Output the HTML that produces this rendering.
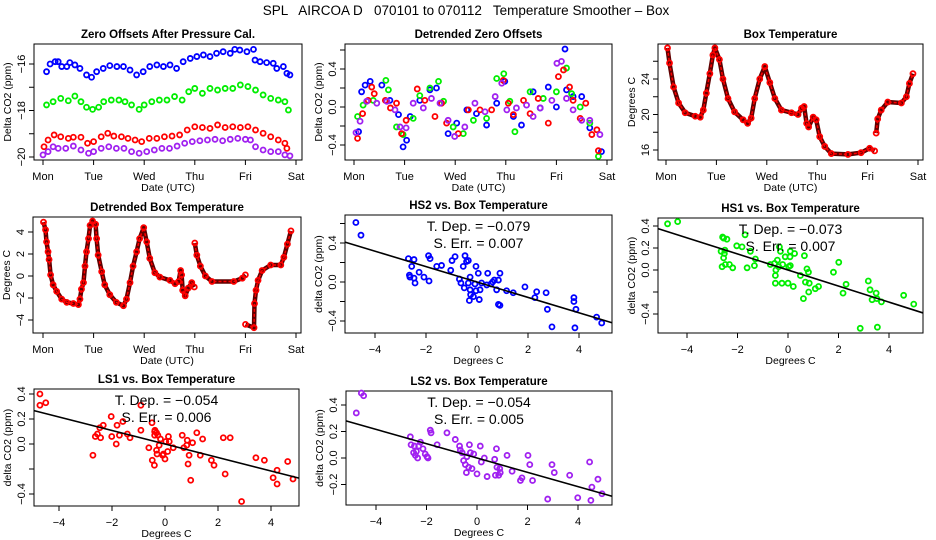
<!DOCTYPE html>
<html><head><meta charset="utf-8">
<style>
html,body{margin:0;padding:0;background:#fff;}
svg{display:block;font-family:"Liberation Sans",sans-serif;}
</style></head>
<body>
<svg id="fig" width="936" height="540" viewBox="0 0 936 540" xmlns="http://www.w3.org/2000/svg">
<rect x="0" y="0" width="936" height="540" fill="#fff"/>
<text x="466" y="15" font-size="13.5" text-anchor="middle" xml:space="preserve">SPL   AIRCOA D   070101 to 070112   Temperature Smoother – Box</text>
</svg>
<script>
// ---- Zero offsets (days since Mon, ppm) ----
const zoBlueDays = [0.07,0.14,0.24,0.30,0.37,0.47,0.53,0.63,0.73,0.86,0.96,1.06,1.19,1.32,1.46,1.59,1.72,1.85,1.98,2.11,2.25,2.38,2.51,2.64,2.77,2.91,3.04,3.17,3.30,3.43,3.56,3.70,3.79,3.89,4.03,4.16,4.19,4.29,4.42,4.55,4.62,4.75,4.82,4.88];
const zoBlue = [-16.33,-16.0,-15.9,-15.9,-16.11,-16.11,-15.94,-16.04,-16.19,-16.47,-16.57,-16.33,-16.19,-16.07,-16.11,-16.11,-16.26,-16.47,-16.33,-16.11,-16.04,-16.11,-16.04,-16.19,-15.9,-15.76,-15.68,-15.61,-15.68,-15.54,-15.47,-15.54,-15.37,-15.4,-15.47,-15.37,-15.83,-15.9,-15.94,-15.97,-16.19,-16.11,-16.4,-16.47];
const zoGreenDays = [0.07,0.2,0.35,0.5,0.63,0.75,0.86,0.98,1.1,1.2,1.35,1.5,1.62,1.75,1.9,2.0,2.15,2.3,2.45,2.6,2.75,2.88,3.0,3.15,3.3,3.45,3.6,3.75,3.9,4.05,4.2,4.35,4.5,4.65,4.78,4.85];
const zoGreen = [-17.76,-17.62,-17.48,-17.58,-17.38,-17.62,-17.86,-17.95,-17.86,-17.62,-17.55,-17.55,-17.62,-17.76,-17.95,-17.76,-17.62,-17.55,-17.55,-17.4,-17.55,-17.19,-17.05,-17.26,-17.05,-17.12,-17.05,-17.05,-16.9,-16.97,-17.12,-17.33,-17.48,-17.55,-17.62,-17.98];
const zoRedDays = [0.02,0.1,0.22,0.35,0.5,0.6,0.75,0.88,1.0,1.15,1.28,1.4,1.55,1.68,1.82,1.95,2.1,2.25,2.4,2.55,2.7,2.85,3.0,3.15,3.3,3.45,3.6,3.75,3.9,4.05,4.2,4.35,4.5,4.65,4.78,4.82];
const zoRed = [-19.56,-19.27,-19.05,-19.13,-19.2,-19.15,-19.15,-19.41,-19.34,-19.13,-18.98,-19.1,-19.13,-19.2,-19.27,-19.34,-19.2,-19.2,-19.13,-19.1,-19.05,-18.84,-18.7,-18.73,-18.77,-18.62,-18.73,-18.7,-18.73,-18.7,-18.84,-18.98,-19.13,-19.27,-19.41,-19.63];
const zoPurpleDays = [0.0,0.1,0.2,0.3,0.45,0.6,0.75,0.9,1.0,1.15,1.3,1.45,1.6,1.75,1.9,2.05,2.2,2.35,2.5,2.65,2.8,2.95,3.1,3.25,3.4,3.55,3.7,3.85,4.0,4.1,4.2,4.35,4.5,4.65,4.78,4.88];
const zoPurple = [-19.91,-19.77,-19.56,-19.63,-19.63,-19.53,-19.7,-19.84,-19.77,-19.63,-19.56,-19.63,-19.63,-19.77,-19.84,-19.77,-19.7,-19.63,-19.63,-19.53,-19.41,-19.34,-19.3,-19.27,-19.24,-19.3,-19.24,-19.2,-19.24,-19.27,-19.56,-19.7,-19.77,-19.77,-19.91,-19.95];
// ---- Detrended zero offsets ----
const dtBlueDays = [0.09,0.15,0.22,0.32,0.55,0.71,0.88,0.97,1.04,1.11,1.3,1.5,1.63,1.86,2.03,2.23,2.42,2.62,2.82,2.98,3.15,3.31,3.54,3.68,3.84,4.0,4.17,4.2,4.33,4.5,4.66,4.89];
const dtBlue = [-0.26,0.16,0.23,0.27,0.23,0.07,-0.08,-0.42,-0.35,-0.1,0.07,0.18,0.2,-0.28,-0.17,-0.03,-0.07,-0.19,0.04,0.27,-0.1,-0.19,0.16,-0.01,0.21,0.0,0.61,0.18,0.11,0.11,-0.22,-0.47];
const dtGreenDays = [0.07,0.18,0.38,0.63,0.68,0.84,0.97,1.17,1.3,1.5,1.67,1.77,1.96,2.16,2.36,2.62,2.82,2.96,3.08,3.18,3.48,3.74,4.0,4.2,4.3,4.47,4.66,4.83];
const dtGreen = [-0.1,0.02,0.07,0.28,0.18,-0.21,-0.29,-0.12,0.12,0.2,0.27,0.06,-0.21,-0.28,-0.14,-0.12,0.3,0.35,0.06,-0.26,0.16,0.09,0.16,0.41,0.14,0.0,-0.17,-0.52];
const dtRedDays = [0.07,0.17,0.28,0.35,0.4,0.62,0.72,0.84,0.94,1.03,1.25,1.4,1.6,1.73,1.83,2.06,2.26,2.49,2.72,2.95,3.05,3.15,3.35,3.48,3.64,3.84,4.04,4.14,4.26,4.33,4.47,4.58,4.7,4.8,4.83];
const dtRed = [-0.33,-0.07,0.07,0.21,0.14,0.07,-0.01,0.04,-0.28,-0.14,0.19,0.07,-0.1,0.04,-0.17,-0.28,-0.03,-0.03,-0.03,0.28,0.04,-0.08,0.07,-0.07,0.09,-0.17,0.32,0.39,0.21,0.07,-0.12,0.04,-0.29,-0.24,-0.46];
const dtPurpleDays = [0.04,0.12,0.25,0.45,0.65,0.81,0.91,1.03,1.17,1.37,1.53,1.7,1.86,1.99,2.19,2.39,2.59,2.79,2.92,3.02,3.21,3.41,3.54,3.68,3.91,4.01,4.1,4.2,4.33,4.5,4.66,4.86];
const dtPurple = [-0.27,-0.15,0.06,0.04,0.06,-0.03,-0.21,-0.22,0.04,-0.01,0.09,0.04,-0.14,-0.31,-0.21,0.04,-0.05,0.11,0.25,-0.03,-0.01,0.02,-0.1,-0.01,0.07,0.46,0.48,0.09,-0.03,-0.14,-0.14,-0.29];
// ---- Box temperature (deg C) ----
const boxDays = [0.03,0.07,0.15,0.25,0.38,0.58,0.68,0.74,0.80,0.87,0.93,0.97,1.06,1.13,1.23,1.36,1.53,1.62,1.69,1.76,1.86,1.96,2.06,2.16,2.29,2.49,2.62,2.69,2.74,2.79,2.83,2.92,2.98,3.05,3.15,3.28,3.61,3.87,4.04,4.14,4.155,4.17,4.2,4.27,4.4,4.67,4.77,4.83,4.9];
const boxTemp = [27.5,25.8,23.1,21.3,20.2,19.8,19.7,20.5,22.4,24.6,26.7,27.5,26.2,24.0,21.8,20.3,19.4,19.0,19.6,21.8,24.0,25.4,23.6,21.8,20.5,20.2,20.0,20.7,20.9,19.0,18.6,19.7,19.4,17.5,16.4,15.6,15.5,15.7,16.2,15.9,null,17.9,19.5,20.5,21.4,21.3,22.0,23.5,24.6];
// ---- Detrended box temperature ----
const dbDays = [0.01,0.05,0.07,0.1,0.12,0.15,0.2,0.27,0.37,0.47,0.6,0.7,0.73,0.76,0.8,0.83,0.86,0.9,0.93,0.98,1.04,1.06,1.09,1.16,1.22,1.32,1.45,1.59,1.65,1.72,1.78,1.85,1.91,1.99,2.05,2.11,2.21,2.31,2.51,2.61,2.68,2.72,2.74,2.76,2.81,2.87,2.94,2.99,2.995,3.0,3.04,3.11,3.21,3.34,3.77,3.94,4.0,4.001,4.002,4.17,4.18,4.21,4.25,4.33,4.5,4.7,4.76,4.83,4.9];
const dbTemp = [4.9,4.2,3.1,2.2,1.5,0.1,-0.8,-1.4,-2.1,-2.4,-2.5,-2.6,-2.1,-1.2,-0.6,0.9,2.2,3.4,4.6,5.0,4.7,3.4,1.9,0.4,-0.8,-1.7,-2.4,-2.7,-2.1,-0.6,0.9,2.2,3.4,4.4,3.1,1.6,0.3,-0.1,-0.4,-0.7,-0.5,0.5,0.1,-1.3,-1.8,-1.1,-0.6,-1.0,null,3.0,1.9,0.9,0.0,-0.5,-0.5,-0.2,0.1,null,-4.4,-4.7,-2.5,-1.3,-0.4,0.5,1.0,1.0,1.7,2.9,4.1];
// ---- Scatter: HS2 vs box temp ----
const hs2Temp = [-4.75,-4.55,-2.69,-2.65,-2.63,-2.56,-2.47,-2.43,-2.47,-2.27,-2.08,-1.88,-1.9,-1.84,-1.58,-1.39,-1.03,-0.98,-0.86,-0.69,-0.63,-0.54,-0.5,-0.47,-0.41,-0.34,-0.34,-0.27,-0.27,-0.3,-0.25,-0.14,-0.08,-0.04,-0.04,0.05,0.09,0.12,0.18,0.42,0.38,0.55,0.61,0.68,0.77,0.84,0.9,0.84,0.9,1.16,1.42,1.88,2.27,2.34,2.71,2.76,2.94,3.8,3.8,3.88,3.84,4.69,4.89];
const hs2Val = [0.61,0.48,0.24,0.07,0.05,0.16,0.23,-0.01,0.04,0.10,0.05,0.01,0.27,0.24,0.16,0.17,0.12,0.22,0.26,0.03,-0.01,0.16,-0.06,0.27,0.21,0.22,-0.01,0.05,-0.08,-0.19,-0.13,-0.15,-0.02,-0.09,0.16,0.09,-0.18,-0.08,-0.01,0.09,-0.03,-0.02,0.0,0.02,-0.08,0.02,0.09,-0.23,-0.24,-0.09,-0.11,-0.05,-0.16,-0.10,-0.11,-0.28,-0.46,-0.16,-0.2,-0.28,-0.47,-0.36,-0.42];
const hs2Stats = ["-0.079","0.007"];
// ---- HS1 ----
const hs1Temp = [-4.77,-4.37,-2.65,-2.59,-2.55,-2.5,-2.55,-2.52,-2.42,-2.61,-2.48,-2.32,-2.19,-2.03,-1.82,-1.7,-1.62,-1.49,-1.33,-1.29,-0.7,-0.53,-0.5,-0.5,-0.48,-0.42,-0.37,-0.34,-0.3,-0.24,-0.21,-0.11,0.0,0.03,0.08,0.09,0.09,0.26,0.21,0.49,0.61,0.65,0.69,0.75,0.81,0.82,0.84,1.08,1.21,1.8,2.01,2.18,2.3,2.86,3.18,3.25,3.33,3.49,3.52,3.7,3.54,4.58,4.98];
const hs1Val = [0.42,0.44,0.17,0.30,0.29,0.18,0.11,0.15,0.28,0.03,0.05,0.05,0.02,0.22,0.21,0.32,0.02,0.17,0.04,0.10,0.05,0.06,-0.05,-0.12,0.0,0.09,0.03,0.21,0.17,-0.12,0.05,0.12,-0.12,0.03,0.12,0.17,0.04,0.15,-0.15,-0.05,-0.26,0.13,-0.11,0.01,-0.02,-0.2,-0.12,-0.17,-0.15,-0.02,0.07,-0.21,-0.13,-0.53,-0.10,-0.18,-0.27,-0.21,-0.26,-0.29,-0.52,-0.23,-0.31];
const hs1Stats = ["-0.073","0.007"];
// ---- LS1 ----
const ls1Temp = [-4.72,-4.72,-4.5,-2.72,-2.63,-2.55,-2.46,-2.43,-2.33,-2.03,-2.01,-1.81,-1.84,-1.72,-1.59,-1.42,-1.32,-0.91,-0.91,-0.61,-0.49,-0.48,-0.4,-0.39,-0.39,-0.38,-0.32,-0.32,-0.3,-0.27,-0.22,-0.17,-0.09,-0.06,0.0,0.03,0.1,0.13,0.16,0.31,0.65,0.71,0.82,0.84,0.87,0.91,0.97,1.04,1.2,1.33,1.42,1.75,1.85,2.2,2.27,2.46,2.89,3.43,3.75,4.08,4.23,4.23,4.63,4.83];
const ls1Val = [0.40,0.31,0.33,-0.09,0.06,0.08,0.13,0.05,0.15,0.22,0.06,0.15,0.0,0.07,0.18,0.08,0.05,0.11,0.31,-0.03,0.17,-0.13,-0.17,0.10,0.07,0.11,0.09,-0.05,-0.08,0.07,-0.01,0.04,-0.09,-0.08,-0.12,0.02,-0.06,0.06,0.02,-0.03,0.07,-0.03,-0.01,0.03,-0.16,-0.09,-0.29,0.01,0.09,-0.09,0.04,-0.13,-0.17,0.05,-0.24,0.05,-0.46,-0.11,-0.13,-0.27,-0.21,-0.32,-0.14,-0.28];
const ls1Stats = ["-0.054","0.006"];
// ---- LS2 ----
const ls2Temp = [-4.78,-4.58,-4.49,-2.64,-2.61,-2.51,-2.48,-2.44,-2.4,-2.35,-2.31,-2.24,-2.14,-2.05,-1.98,-1.94,-1.85,-1.82,-1.58,-1.19,-0.86,-0.69,-0.66,-0.59,-0.53,-0.46,-0.42,-0.4,-0.33,-0.3,-0.26,-0.2,-0.13,0.0,0.13,0.17,0.29,0.4,0.7,0.73,0.77,0.79,0.86,0.9,0.92,1.19,1.39,1.72,1.78,2.02,2.09,2.2,2.8,2.97,3.06,3.67,3.99,4.46,4.51,4.55,4.79,4.95];
const ls2Val = [0.34,0.49,0.47,0.16,0.10,0.04,0.09,0.02,0.05,0.0,0.09,0.12,0.07,0.03,0.01,0.0,0.21,0.19,0.10,0.19,0.14,0.09,0.06,0.04,-0.02,-0.05,-0.11,0.01,-0.07,0.10,0.04,-0.08,0.03,-0.12,0.09,-0.03,0.0,-0.14,-0.01,-0.13,0.07,-0.07,-0.13,-0.08,-0.11,0.02,-0.10,-0.17,-0.15,0.02,-0.05,-0.17,-0.31,-0.05,-0.11,-0.13,-0.30,-0.03,-0.32,-0.22,-0.16,-0.27];
const ls2Stats = ["-0.054","0.005"];
const slopes = [-0.079,-0.073,-0.054,-0.054];
const dayLabels = ["Mon","Tue","Wed","Thu","Fri","Sat"];
const dayTicks = [0,1,2,3,4,5];
const tempTicks = [-4,-2,0,2,4];

const NS = "http://www.w3.org/2000/svg";
const fig = document.getElementById("fig");
function el(tag, parent){ const e=document.createElementNS(NS,tag); parent.appendChild(e); return e; }
function lin(v0,p0,v1,p1){ return v=>p0+(v-v0)*(p1-p0)/(v1-v0); }

function panel(c){
  const g=el("g",fig);
  
  
  const [x0,y0,x1,y1]=c.box;
  const sx=lin(...c.xa), sy=lin(...c.ya);
  const r=el("rect",g);
  r.setAttribute("x",x0); r.setAttribute("y",y0); r.setAttribute("width",x1-x0); r.setAttribute("height",y1-y0);
  r.setAttribute("fill","none"); r.setAttribute("stroke","#000"); r.setAttribute("stroke-width","1");
  
  
  c.xticks.forEach((v,i)=>{
    const x=sx(v);
    const t=el("line",g);
    t.setAttribute("x1",x); t.setAttribute("x2",x); t.setAttribute("y1",y1); t.setAttribute("y2",y1+5); t.setAttribute("stroke","#000");
    
    
    const l=el("text",g);
    l.setAttribute("x",x); l.setAttribute("y",y1+20); l.setAttribute("font-size","11"); l.setAttribute("text-anchor","middle");
    l.textContent=c.xlabels[i];
    
    
  });
  c.yticks.forEach((v,i)=>{
    const y=sy(v);
    const t=el("line",g);
    t.setAttribute("x1",x0-5); t.setAttribute("x2",x0); t.setAttribute("y1",y); t.setAttribute("y2",y); t.setAttribute("stroke","#000");
    
    
    if(c.ylabels[i]!==""){
      const l=el("text",g);
      l.setAttribute("x",0); l.setAttribute("y",0); l.setAttribute("font-size","11"); l.setAttribute("text-anchor","middle");
      l.setAttribute("transform",`translate(${x0-9},${y}) rotate(-90)`);
      l.textContent=c.ylabels[i];
      
      
    }
  });
  const tt=el("text",g);
  tt.setAttribute("x",(x0+x1)/2); tt.setAttribute("y",y0-6); tt.setAttribute("font-size","11.5"); tt.setAttribute("font-weight","bold"); tt.setAttribute("text-anchor","middle");
  tt.textContent=c.title;
  
  
  const xt=el("text",g);
  xt.setAttribute("x",(x0+x1)/2); xt.setAttribute("y",y1+31); xt.setAttribute("font-size","10.5"); xt.setAttribute("text-anchor","middle");
  xt.textContent=c.xtitle;
  
  
  const yt=el("text",g);
  yt.setAttribute("x",0); yt.setAttribute("y",0); yt.setAttribute("font-size","10.5"); yt.setAttribute("text-anchor","middle");
  yt.setAttribute("transform",`translate(${x0-23},${(y0+y1)/2}) rotate(-90)`);
  yt.textContent=c.ytitle;
  
  
  return {g,sx,sy,box:c.box};
}

function pts(p, xs, ys, color, name){
  const g=el("g",p.g);
  
  
  xs.forEach((x,i)=>{
    if(ys[i]===null) return;
    const c=el("circle",g);
    c.setAttribute("cx",p.sx(x)); c.setAttribute("cy",p.sy(ys[i])); c.setAttribute("r","2.5");
    c.setAttribute("fill","none"); c.setAttribute("stroke",color); c.setAttribute("stroke-width","1.8");
    
    
  });
}
function trace(p, xs, ys, name){
  let d="", pen=false;
  xs.forEach((x,i)=>{
    if(ys[i]===null){ pen=false; return; }
    d+=(pen?"L":"M")+p.sx(x).toFixed(1)+","+p.sy(ys[i]).toFixed(1);
    pen=true;
  });
  const path=el("path",p.g);
  path.setAttribute("d",d); path.setAttribute("fill","none"); path.setAttribute("stroke","#600000"); path.setAttribute("stroke-width","4.5"); path.setAttribute("stroke-linejoin","round");
  
  
  const path2=el("path",p.g);
  path2.setAttribute("d",d); path2.setAttribute("fill","none"); path2.setAttribute("stroke","#ff0000"); path2.setAttribute("stroke-width","1.5"); path2.setAttribute("stroke-dasharray","3 2");
  
  
}
function fit(p, slope, stats){
  const [x0,y0,x1,y1]=p.box;
  const inv=lin(p.sx(0),0,p.sx(1),1);
  const va=inv(x0), vb=inv(x1);
  const l=el("line",p.g);
  l.setAttribute("x1",x0); l.setAttribute("x2",x1); l.setAttribute("y1",p.sy(slope*va)); l.setAttribute("y2",p.sy(slope*vb));
  l.setAttribute("stroke","#000"); l.setAttribute("stroke-width","1.6");
  
  
  const cx=(x0+x1)/2;
  const t1=el("text",p.g);
  t1.setAttribute("x",cx); t1.setAttribute("y",y0+16); t1.setAttribute("font-size","14"); t1.setAttribute("text-anchor","middle"); t1.setAttribute("xml:space","preserve");
  t1.textContent="T. Dep. =  "+stats[0].replace("-","\u2212");
  
  
  const t2=el("text",p.g);
  t2.setAttribute("x",cx); t2.setAttribute("y",y0+33); t2.setAttribute("font-size","14"); t2.setAttribute("text-anchor","middle"); t2.setAttribute("xml:space","preserve");
  t2.textContent="S. Err. =  "+stats[1];
  
  
}

const p1=panel({name:"zero-offsets-panel",box:[34,44,302,160],xa:[0,43,5,296],ya:[-16,64,-20,157],
  xticks:dayTicks,xlabels:dayLabels,yticks:[-20,-19,-18,-17,-16],ylabels:["\u221220","","\u221218","","\u221216"],
  title:"Zero Offsets After Pressure Cal.",xtitle:"Date (UTC)",ytitle:"Delta CO2  (ppm)"});
pts(p1,zoBlueDays,zoBlue,"#0000ff","series-hs2");
pts(p1,zoGreenDays,zoGreen,"#00ee00","series-hs1");
pts(p1,zoRedDays,zoRed,"#ff0000","series-ls1");
pts(p1,zoPurpleDays,zoPurple,"#a020f0","series-ls2");
const p2=panel({name:"detrended-zero-offsets-panel",box:[345,44,612,160],xa:[0,354,5,607],ya:[0,107,0.4,69],
  xticks:dayTicks,xlabels:dayLabels,yticks:[-0.4,-0.2,0,0.2,0.4,0.6],ylabels:["\u22120.4","","0.0","","0.4",""],
  title:"Detrended Zero Offsets",xtitle:"Date (UTC)",ytitle:"Delta CO2  (ppm)"});
pts(p2,dtBlueDays,dtBlue,"#0000ff","series-hs2");
pts(p2,dtGreenDays,dtGreen,"#00ee00","series-hs1");
pts(p2,dtRedDays,dtRed,"#ff0000","series-ls1");
pts(p2,dtPurpleDays,dtPurple,"#a020f0","series-ls2");
const p3=panel({name:"box-temperature-panel",box:[658,44,923,160],xa:[0,666,5,918],ya:[16,150,24,79],
  xticks:dayTicks,xlabels:dayLabels,yticks:[16,18,20,22,24,26],ylabels:["16","","20","","24",""],
  title:"Box Temperature",xtitle:"Date (UTC)",ytitle:"Degrees C"});
trace(p3,boxDays,boxTemp,"box-temperature-trace");
pts(p3,boxDays,boxTemp,"#ff0000","box-temperature-points");
const p4=panel({name:"detrended-box-temperature-panel",box:[33,217,301,333],xa:[0,43,5,296],ya:[0,276,4,232],
  xticks:dayTicks,xlabels:dayLabels,yticks:[-4,-2,0,2,4],ylabels:["\u22124","\u22122","0","2","4"],
  title:"Detrended Box Temperature",xtitle:"Date (UTC)",ytitle:"Degrees C"});
trace(p4,dbDays,dbTemp,"detrended-temperature-trace");
pts(p4,dbDays,dbTemp,"#ff0000","detrended-temperature-points");
const tl=["\u22124","\u22122","0","2","4"];
const p5=panel({name:"hs2-scatter-panel",box:[345,215,612,333],xa:[0,477,4,579],ya:[0,282,0.4,243],
  xticks:tempTicks,xlabels:tl,yticks:[-0.4,-0.2,0,0.2,0.4,0.6],ylabels:["\u22120.4","","0.0","","0.4",""],
  title:"HS2 vs. Box Temperature",xtitle:"Degrees C",ytitle:"delta CO2 (ppm)"});
pts(p5,hs2Temp,hs2Val,"#0000ff","hs2-points");
fit(p5,slopes[0],hs2Stats);
const p6=panel({name:"hs1-scatter-panel",box:[658,218,923,333],xa:[0,788,4,889],ya:[0,270,0.4,226],
  xticks:tempTicks,xlabels:tl,yticks:[-0.4,-0.2,0,0.2,0.4],ylabels:["\u22120.4","","0.0","0.2","0.4"],
  title:"HS1 vs. Box Temperature",xtitle:"Degrees C",ytitle:"delta CO2 (ppm)"});
pts(p6,hs1Temp,hs1Val,"#00ee00","hs1-points");
fit(p6,slopes[1],hs1Stats);
const p7=panel({name:"ls1-scatter-panel",box:[34,389,299,506],xa:[0,165,4,271],ya:[0,444,0.4,394],
  xticks:tempTicks,xlabels:tl,yticks:[-0.4,-0.2,0,0.2,0.4],ylabels:["\u22120.4","","0.0","0.2","0.4"],
  title:"LS1 vs. Box Temperature",xtitle:"Degrees C",ytitle:"delta CO2 (ppm)"});
pts(p7,ls1Temp,ls1Val,"#ff0000","ls1-points");
fit(p7,slopes[2],ls1Stats);
const p8=panel({name:"ls2-scatter-panel",box:[346,391,612,505],xa:[0,477,4,578],ya:[0,458,0.4,405],
  xticks:tempTicks,xlabels:tl,yticks:[-0.2,0,0.2,0.4],ylabels:["\u22120.2","0.0","0.2","0.4"],
  title:"LS2 vs. Box Temperature",xtitle:"Degrees C",ytitle:"delta CO2 (ppm)"});
pts(p8,ls2Temp,ls2Val,"#a020f0","ls2-points");
fit(p8,slopes[3],ls2Stats);
</script>
</body></html>
